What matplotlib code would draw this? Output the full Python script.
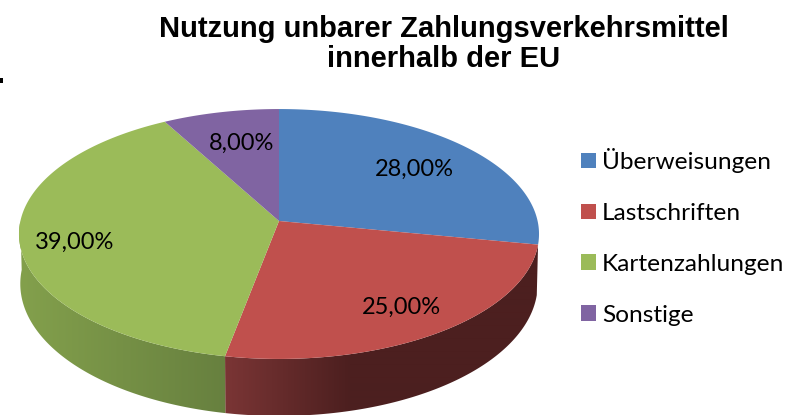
import numpy as np
import matplotlib
matplotlib.use("Agg")
import matplotlib.pyplot as plt
from matplotlib.patches import Polygon, Rectangle
from matplotlib.colors import to_rgb

categories = ["Überweisungen", "Lastschriften", "Kartenzahlungen", "Sonstige"]
values = [28, 25, 39, 8]
colors = ["#4f81bd", "#c0504d", "#9bbb59", "#8064a2"]
title = "Nutzung unbarer Zahlungsverkehrsmittel\ninnerhalb der EU"

# side wall colours at the two ends of the gradient, with the x range it runs over
side_ramp = {
    "#c0504d": ("#7a3535", "#4c1f1f", 226, 350),
    "#9bbb59": ("#83a04c", "#67803f", 20, 226),
}

# pie projected with some perspective (pixel coordinates of the picture)
cx, cy = 279, 221
rx, ry, k = 258.6, 123.6, 0.104
depth = 49


def project(theta, r=1.0):
    u = r * np.sin(theta)
    v = r * np.cos(theta)
    d = 1 + k * v
    return cx + rx * u / d, cy - ry * v / d


def project_low(theta):
    x, y = project(theta)
    v = np.cos(theta)
    return cx + (x - cx) * 0.995, y + depth - 8 * v


fig = plt.figure(figsize=(8, 4.15), dpi=100)
ax = fig.add_axes([0, 0, 1, 1])

edges = np.cumsum([0] + values) / 100 * 2 * np.pi

# side wall, only the front half can be seen
for i, c in enumerate(colors):
    if c not in side_ramp:
        continue
    light, dark, x_start, x_end = side_ramp[c]
    t = np.linspace(max(edges[i], np.pi / 2), min(edges[i + 1], 3 * np.pi / 2), 200)
    top_x, top_y = project(t)
    low_x, low_y = project_low(t)
    outline = list(zip(top_x, top_y)) + list(zip(low_x[::-1], low_y[::-1]))
    patch = Polygon(outline, closed=True, facecolor="none", edgecolor="none", transform=ax.transData)
    ax.add_patch(patch)
    f = np.clip((np.arange(800) - x_start) / (x_end - x_start), 0, 1)[None, :, None]
    ramp = np.array(to_rgb(light))[None, None, :] * (1 - f) + np.array(to_rgb(dark))[None, None, :] * f
    im = ax.imshow(ramp, extent=(0, 800, 415, 0), aspect="auto", zorder=1, interpolation="bilinear")
    im.set_clip_path(patch)

ax.set_xlim(0, 800)
ax.set_ylim(415, 0)
ax.axis("off")

# top face
for i, c in enumerate(colors):
    t = np.linspace(edges[i], edges[i + 1], 200)
    xs, ys = project(t)
    pts = [(cx, cy)] + list(zip(xs, ys))
    ax.add_patch(Polygon(pts, closed=True, facecolor=c, edgecolor="none", zorder=2))

# data labels, placed by hand a little off the radius like the original
label_radius = [0.72, 0.78, 0.79, 0.69]
label_dx = [-2, 1, 0, 4]
label_dy = [1, 0, 5, -1]
for i, v in enumerate(values):
    mid = (edges[i] + edges[i + 1]) / 2
    x, y = project(mid, label_radius[i])
    ax.text(x + label_dx[i], y + 1 + label_dy[i], f"{v:.2f}".replace(".", ",") + "%", ha="center",
            va="center", fontsize=17, family="Lato", color="black", zorder=3)

ax.text(443.5, 44, title, ha="center", va="center", fontsize=21, fontweight="bold",
        family="Liberation Sans", color="black", linespacing=1.1)

# stray mark at the left edge of the original
ax.add_patch(Rectangle((0, 78), 3, 5, facecolor="black", edgecolor="none"))

handles = [Rectangle((0, 0), 1, 1, facecolor=c, edgecolor="none") for c in colors]
leg = ax.legend(handles, categories, loc="center left", bbox_to_anchor=(581, 237),
                bbox_transform=ax.transData, frameon=False, prop={"family": "Lato", "size": 17.6},
                handlelength=0.61, handleheight=0.61, handletextpad=0.25, labelspacing=1.22,
                borderaxespad=0, borderpad=0)

fig.savefig("out.png", dpi=100)
plt.close()
